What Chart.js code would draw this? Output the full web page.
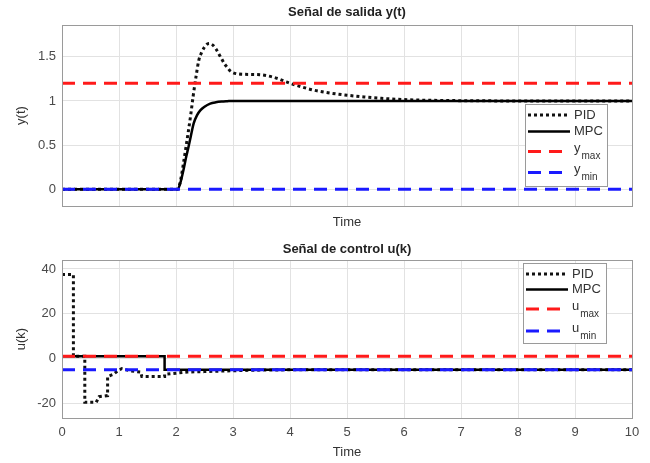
<!DOCTYPE html>
<html><head><meta charset="utf-8">
<script src="https://cdn.jsdelivr.net/npm/chart.js@4/dist/chart.umd.min.js"></script>
<style>
html,body{margin:0;padding:0;background:#fff;}
#w{position:relative;width:650px;height:463px;overflow:hidden;}
canvas{position:absolute;left:0;}
</style></head><body>
<div id="w">
<canvas id="c1" style="top:0" width="650" height="235"></canvas>
<canvas id="c2" style="top:235px" width="650" height="228"></canvas>
</div>
<script>
// ---------- data ----------
const seriesNames = ['PID', 'MPC'];
const xTicks = [0,1,2,3,4,5,6,7,8,9,10];

// Output signal y(t)
const tY   = [0, 2.03, 2.08, 2.13, 2.18, 2.22, 2.26, 2.30, 2.35, 2.40, 2.45, 2.50, 2.55, 2.59, 2.65, 2.70, 2.78, 2.85, 2.90, 2.95, 3.00, 3.10, 3.30, 3.50, 3.60, 3.70, 3.80, 3.90, 4.00, 4.20, 4.40, 4.60, 4.80, 5.00, 5.30, 5.60, 6.00, 6.50, 7.00, 8.00, 10.00];
const yPID = [0, 0,    0.10, 0.29, 0.50, 0.67, 0.85, 1.05, 1.27, 1.46, 1.55, 1.61, 1.645,1.65, 1.63, 1.59, 1.50, 1.42, 1.38, 1.34, 1.32, 1.305,1.30, 1.295,1.285,1.27, 1.25, 1.225,1.20, 1.16, 1.125,1.10, 1.08, 1.065,1.045,1.03, 1.015,1.007,1.003,1.0,  1.0];
const tYM  = [0, 2.03, 2.08, 2.13, 2.18, 2.22, 2.26, 2.31, 2.37, 2.43, 2.50, 2.60, 2.70, 2.80, 2.90, 3.00, 10.00];
const yMPC = [0, 0,    0.08, 0.215,0.37, 0.48, 0.60, 0.745,0.84, 0.896,0.935,0.97, 0.985,0.993,0.997,1.0,  1.0];
const yMaxVal = 1.2;
const yMinVal = 0;
const yTicks1 = [0, 0.5, 1, 1.5];

// Control signal u(k)
const tU   = [0,    0.2,  0.2, 0.4, 0.4,   0.6,   0.65, 0.8,   0.8, 0.9, 1.0,  1.05, 1.2,  1.38, 1.4, 1.8, 1.8, 2.0,  2.2, 2.5,  3.0,  3.5,  4.0, 10];
const uPID = [37.5, 37.5, 1,   1,   -19.5, -19.5, -17,  -16.5, -8,  -7,  -5,   -4.5, -5.5, -6,   -8,  -8,  -7,  -6.5, -6,  -5.8, -5.4, -5.1, -5,  -5];
const tUM  = [0, 1.8, 1.8, 10];
const uMPC = [1, 1,   -5,  -5];
const uMaxVal = 1;
const uMinVal = -5;
const yTicks2 = [-20, 0, 20, 40];

// ---------- helpers ----------
const FONT = '"Liberation Sans", Arial, Helvetica, sans-serif';
const pts = (xs, ys) => xs.map((x, i) => ({x: x, y: ys[i]}));
const hline = v => [{x: 0, y: v}, {x: 10, y: v}];

const boxPlugin = {
  id: 'boxPlugin',
  afterDatasetsDraw(chart) {
    const a = chart.chartArea, c = chart.ctx;
    c.save();
    c.strokeStyle = '#9a9a9a';
    c.lineWidth = 1;
    c.strokeRect(Math.round(a.left) + 0.5, Math.round(a.top) + 0.5, Math.round(a.right - a.left), Math.round(a.bottom - a.top));
    c.restore();
  }
};

const titlePlugin = {
  id: 'atitle',
  afterDraw(chart, args, opts) {
    const a = chart.chartArea, c = chart.ctx;
    c.save();
    c.fillStyle = '#222';
    c.font = 'bold 13px ' + FONT;
    c.textAlign = 'center';
    c.textBaseline = 'middle';
    c.fillText(opts.text, (a.left + a.right) / 2, opts.y);
    c.restore();
  }
};

const legendPlugin = {
  id: 'mlegend',
  afterDraw(chart, args, opts) {
    const c = chart.ctx;
    c.save();
    c.fillStyle = '#fff';
    c.fillRect(opts.x, opts.y, opts.w, opts.h);
    c.strokeStyle = '#9a9a9a';
    c.lineWidth = 1;
    c.strokeRect(opts.x + 0.5, opts.y + 0.5, opts.w, opts.h);
    opts.items.forEach(it => {
      c.strokeStyle = it.color;
      c.lineWidth = it.lw;
      c.setLineDash(it.dash);
      c.lineCap = 'butt';
      c.beginPath();
      c.moveTo(opts.x + 3, it.y);
      c.lineTo(opts.x + 45, it.y);
      c.stroke();
      c.setLineDash([]);
      c.fillStyle = '#333';
      c.textBaseline = 'middle';
      c.textAlign = 'left';
      c.font = '13px ' + FONT;
      c.fillText(it.text, opts.x + 49, it.ty);
      if (it.sub) {
        const w = c.measureText(it.text).width;
        c.font = '10px ' + FONT;
        c.fillText(it.sub, opts.x + 49 + w + 1, it.ty + 8);
      }
    });
    c.restore();
  }
};

function makeChart(id, cfg) {
  return new Chart(document.getElementById(id), {
    type: 'line',
    data: {datasets: cfg.datasets},
    plugins: [boxPlugin, legendPlugin, titlePlugin],
    options: {
      responsive: false,
      animation: false,
      devicePixelRatio: 1,
      layout: {padding: {left: 0, right: 18, top: 25, bottom: 0}},
      elements: {point: {radius: 0}, line: {tension: 0}},
      plugins: {
        legend: {display: false},
        tooltip: {enabled: false},
        title: {display: false},
        atitle: {text: cfg.title, y: cfg.titleY},
        mlegend: cfg.legend
      },
      scales: {
        x: {
          type: 'linear', min: 0, max: 10,
          afterBuildTicks: s => { s.ticks = xTicks.map(v => ({value: v})); },
          afterFit: s => { s.height = cfg.xHeight; },
          grid: {color: '#e2e2e2', drawTicks: false},
          border: {display: false},
          ticks: {display: cfg.xLabels, color: '#4a4a4a', padding: 7, maxRotation: 0,
                  font: {family: FONT, size: 13}, callback: v => String(v)},
          title: {display: true, text: 'Time', color: '#333',
                  font: {family: FONT, size: 13}, padding: {top: 0, bottom: cfg.timePad}}
        },
        y: {
          type: 'linear', min: cfg.ymin, max: cfg.ymax,
          afterBuildTicks: s => { s.ticks = cfg.yTicks.map(v => ({value: v})); },
          afterFit: s => { s.width = 62; },
          grid: {color: '#e2e2e2', drawTicks: false},
          border: {display: false},
          ticks: {color: '#4a4a4a', padding: 6, font: {family: FONT, size: 13},
                  callback: v => String(v)},
          title: {display: true, text: cfg.ytitle, color: '#333',
                  font: {family: FONT, size: 13}, padding: {top: 14, bottom: 0}}
        }
      }
    }
  });
}

const dsStyle = {
  pid:  {borderColor: '#111', borderWidth: 3, borderDash: [3, 3], order: 4, fill: false},
  mpc:  {borderColor: '#000', borderWidth: 2.5, order: 3, fill: false},
  max:  {borderColor: '#ff1a1a', borderWidth: 3, borderDash: [13, 8], order: 2, fill: false},
  min:  {borderColor: '#1a1aff', borderWidth: 3, borderDash: [13, 8], order: 1, fill: false}
};

makeChart('c1', {
  title: 'Señal de salida y(t)', titleY: 12,
  xHeight: 29, xLabels: false, timePad: 5,
  ymin: -0.19, ymax: 1.86, yTicks: yTicks1, ytitle: 'y(t)',
  datasets: [
    Object.assign({label: seriesNames[0], data: pts(tY, yPID), cubicInterpolationMode: 'monotone'}, dsStyle.pid),
    Object.assign({label: seriesNames[1], data: pts(tYM, yMPC), cubicInterpolationMode: 'monotone'}, dsStyle.mpc),
    Object.assign({label: 'ymax', data: hline(yMaxVal)}, dsStyle.max),
    Object.assign({label: 'ymin', data: hline(yMinVal)}, dsStyle.min)
  ],
  legend: {x: 525, y: 104, w: 82, h: 82, items: [
    {text: seriesNames[0], y: 115, ty: 115, color: '#111', lw: 3, dash: [3, 3]},
    {text: seriesNames[1], y: 131.5, ty: 131.5, color: '#000', lw: 2.5, dash: []},
    {text: 'y', sub: 'max', y: 151.5, ty: 148, color: '#ff1a1a', lw: 3, dash: [13, 8]},
    {text: 'y', sub: 'min', y: 172.5, ty: 169, color: '#1a1aff', lw: 3, dash: [13, 8]}
  ]}
});

makeChart('c2', {
  title: 'Señal de control u(k)', titleY: 14,
  xHeight: 45, xLabels: true, timePad: 3,
  ymin: -26.5, ymax: 44, yTicks: yTicks2, ytitle: 'u(k)',
  datasets: [
    Object.assign({label: seriesNames[0], data: pts(tU, uPID)}, dsStyle.pid),
    Object.assign({label: seriesNames[1], data: pts(tUM, uMPC)}, dsStyle.mpc),
    Object.assign({label: 'umax', data: hline(uMaxVal)}, dsStyle.max),
    Object.assign({label: 'umin', data: hline(uMinVal)}, dsStyle.min)
  ],
  legend: {x: 523, y: 28, w: 83, h: 80, items: [
    {text: seriesNames[0], y: 39, ty: 39, color: '#111', lw: 3, dash: [3, 3]},
    {text: seriesNames[1], y: 54.5, ty: 54.5, color: '#000', lw: 2.5, dash: []},
    {text: 'u', sub: 'max', y: 74, ty: 71.5, color: '#ff1a1a', lw: 3, dash: [13, 8]},
    {text: 'u', sub: 'min', y: 96, ty: 93.5, color: '#1a1aff', lw: 3, dash: [13, 8]}
  ]}
});
</script>
</body></html>
